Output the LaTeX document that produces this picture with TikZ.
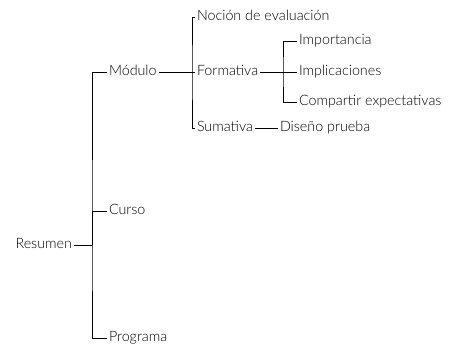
\documentclass[tikz,border=0pt]{standalone}
\usepackage{fontspec}
\setmainfont{Lato Light}
\begin{document}
\begin{tikzpicture}[x=1bp, y=-1bp, font=\fontsize{14.3bp}{16bp}\selectfont, line cap=butt, line width=1bp,
  leaf/.style={anchor=west, inner sep=1.5bp, text height=1.45ex, text depth=0pt}]
	\useasboundingbox (0,0) rectangle (456,350);
	% nodos
	\node[leaf, anchor=east] (res) at (74,245) {Resumen};
	\node[leaf] (mod) at (107,72) {Módulo};
	\node[leaf] (cur) at (107,211) {Curso};
	\node[leaf] (prog) at (107,338) {Programa};
	\node[leaf] (noc) at (195,17) {Noción de evaluación};
	\node[leaf] (form) at (195,72) {Formativa};
	\node[leaf] (sum) at (195,128) {Sumativa};
	\node[leaf] (imp) at (297,41) {Importancia};
	\node[leaf] (impl) at (297,72) {Implicaciones};
	\node[leaf] (comp) at (297,102) {Compartir expectativas};
	\node[leaf] (dis) at (278,128) {Diseño prueba};
	% ramas
	\coordinate (s1) at (92,245);
	\coordinate (s2) at (192,72);
	\coordinate (s3) at (283,72);
	\draw (res.east) -- (s1);
	\draw (mod.west) -| (s1) |- (prog.west);
	\draw (s1) |- (cur.west);
	\draw (mod.east) -- (s2);
	\draw (noc.west) -| (s2) |- (sum.west);
	\draw (s2) -- (form.west);
	\draw (form.east) -- (s3);
	\draw (imp.west) -| (s3) |- (comp.west);
	\draw (s3) -- (impl.west);
	\draw (sum.east) -- (dis.west);
\end{tikzpicture}
\end{document}
